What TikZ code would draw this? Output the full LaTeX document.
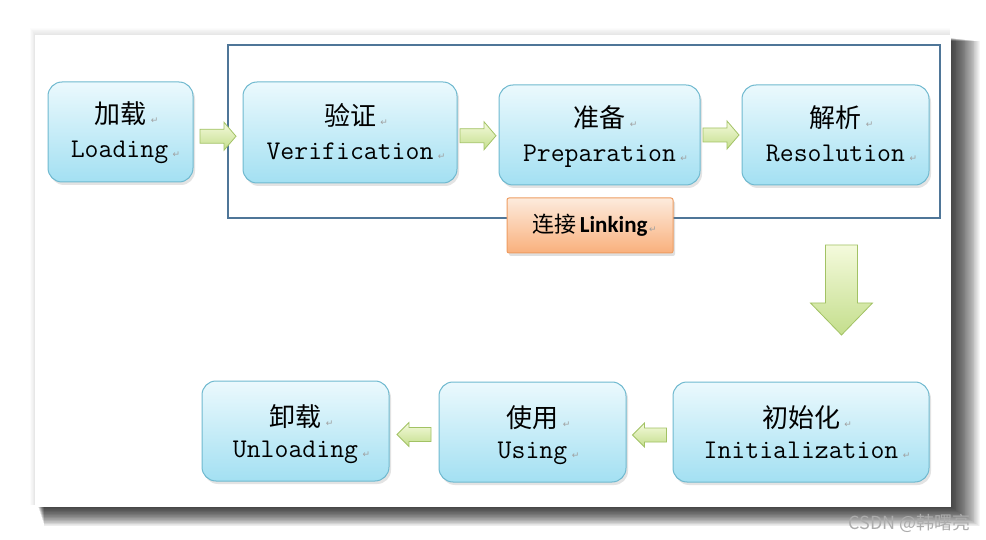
\documentclass[tikz,border=0pt]{standalone}
\usepackage{fontspec}
\usetikzlibrary{shadows,calc}
\newfontfamily\cjk{Noto Sans CJK SC}
\newfontfamily\lab{Carlito}
\newfontfamily\dejavu{DejaVu Sans}
\definecolor{boxtop}{HTML}{EBF9FD}
\definecolor{boxbot}{HTML}{A3E0F2}
\definecolor{boxline}{HTML}{6FB9CF}
\definecolor{orgtop}{HTML}{FDEBDD}
\definecolor{orgbot}{HTML}{F9B07C}
\definecolor{orgline}{HTML}{EE9D62}
\definecolor{grtop}{HTML}{F4FADC}
\definecolor{grbot}{HTML}{C4DE8C}
\definecolor{grline}{HTML}{A2C264}
\definecolor{linkc}{HTML}{4F7698}
\definecolor{retc}{HTML}{A0A0A0}
\newcommand\retmark{\rlap{\,\textcolor{retc}{\dejavu\fontsize{9}{9}\selectfont ↵}}}
\begin{document}
\begin{tikzpicture}[x=1pt,y=-1pt,
  box/.style={draw=boxline, line width=1pt, rounded corners=14pt,
    top color=boxtop, bottom color=boxbot,
    drop shadow={opacity=0.22, shadow xshift=2pt, shadow yshift=-3pt}},
  zh/.style={font=\cjk\fontsize{26}{26}\selectfont, inner sep=0pt, anchor=base},
  en/.style={font=\ttfamily\fontsize{27}{27}\selectfont, inner sep=0pt, anchor=base},
  blockarrow/.style={draw=grline, line width=0.8pt, top color=grtop, bottom color=grbot, line join=miter},
  labelbox/.style={draw=orgline, line width=1pt, rounded corners=2pt,
    top color=orgtop, bottom color=orgbot,
    drop shadow={opacity=0.25, shadow xshift=2pt, shadow yshift=-3pt},
    minimum width=166pt, minimum height=55pt}]
\useasboundingbox (0,0) rectangle (986,540);
\fill[white] (0,0) rectangle (986,540);
% page shadow
\foreach \k in {1,...,8}
  \fill[black,opacity=0.012] ({35-0.6*\k},{35-0.9*\k}) rectangle (950,505);
\foreach \k in {1,...,32}
  \fill[black,opacity=0.034] ({38+0.2*\k},{38+0.1*\k}) rectangle ({951+0.9*\k},{507+0.6*\k});
\fill[white] (35,35) rectangle (951,507);

% linking frame
\node[draw=linkc, line width=1.5pt, minimum width=712pt, minimum height=173pt, inner sep=0pt] (frame) at (584,131.5) {};

% boxes
\node[box, minimum width=145pt, minimum height=100pt] (load) at (120.5,132) {};
\node[box, minimum width=214pt, minimum height=101pt] (verif) at (350,132.5) {};
\node[box, minimum width=201pt, minimum height=100pt] (prep) at (599.5,135) {};
\node[box, minimum width=187pt, minimum height=100pt] (resol) at (835.5,135) {};
\node[box, minimum width=256pt, minimum height=100pt] (init) at (801,432) {};
\node[box, minimum width=187pt, minimum height=100pt] (using) at (532.5,432) {};
\node[box, minimum width=187pt, minimum height=100pt] (unload) at (295.5,431) {};

% texts
\node[zh] (load-zh) at ($(load.center)+(0,-8)$) {加载\retmark};
\node[en] (load-en) at ($(load.center)+(-1,26)$) {Loading\retmark};
\node[zh] (verif-zh) at ($(verif.center)+(0,-7)$) {验证\retmark};
\node[en] (verif-en) at ($(verif.center)+(0,27)$) {Verification\retmark};
\node[zh] (prep-zh) at ($(prep.center)+(0,-7)$) {准备\retmark};
\node[en] (prep-en) at ($(prep.center)+(0,27)$) {Preparation\retmark};
\node[zh] (resol-zh) at ($(resol.center)+(0,-7)$) {解析\retmark};
\node[en] (resol-en) at ($(resol.center)+(0,27)$) {Resolution\retmark};
\node[zh] (init-zh) at ($(init.center)+(0,-5)$) {初始化\retmark};
\node[en] (init-en) at ($(init.center)+(0,26)$) {Initialization\retmark};
\node[zh] (using-zh) at ($(using.center)+(0,-5)$) {使用\retmark};
\node[en] (using-en) at ($(using.center)+(0,26)$) {Using\retmark};
\node[zh] (unload-zh) at ($(unload.center)+(0,-5)$) {卸载\retmark};
\node[en] (unload-en) at ($(unload.center)+(0,26)$) {Unloading\retmark};

% linking label
\node[labelbox] (linking) at (590,225.5)
  {{\cjk\fontsize{22}{22}\selectfont 连接} {\lab\bfseries\fontsize{23}{23}\selectfont Linking}\retmark};

% right block arrows
\coordinate (a1) at ($(load.east)!0.5!(verif.west)+(0,4)$);
\coordinate (a2) at ($(verif.east)!0.5!(prep.west)+(0,2)$);
\coordinate (a3) at ($(prep.east)!0.5!(resol.west)+(0,0)$);
\foreach \c in {a1,a2,a3}
  \path[blockarrow, shift={(\c)}] (-18,-7) -- (6,-7) -- (6,-14) -- (18,0) -- (6,14) -- (6,7) -- (-18,7) -- cycle;

% left block arrows
\coordinate (b1) at ($(using.east)!0.5!(init.west)+(0,3)$);
\coordinate (b2) at ($(unload.east)!0.5!(using.west)+(0,3)$);
\foreach \c in {b1,b2}
  \path[blockarrow, shift={(\c)}] (17,-7) -- (-5,-7) -- (-5,-12) -- (-17,0) -- (-5,12) -- (-5,7) -- (17,7) -- cycle;

% down arrow
\coordinate (d1) at (841.5,245);
\path[blockarrow, shift={(d1)}] (-16,0) -- (16,0) -- (16,58) -- (31,58) -- (0,90) -- (-31,58) -- (-16,58) -- cycle;

% watermark
\node[anchor=base east, inner sep=0pt, text=gray!65, font=\cjk\fontsize{18}{18}\selectfont] (wm) at (971,529) {CSDN @韩曙亮};
\end{tikzpicture}
\end{document}
